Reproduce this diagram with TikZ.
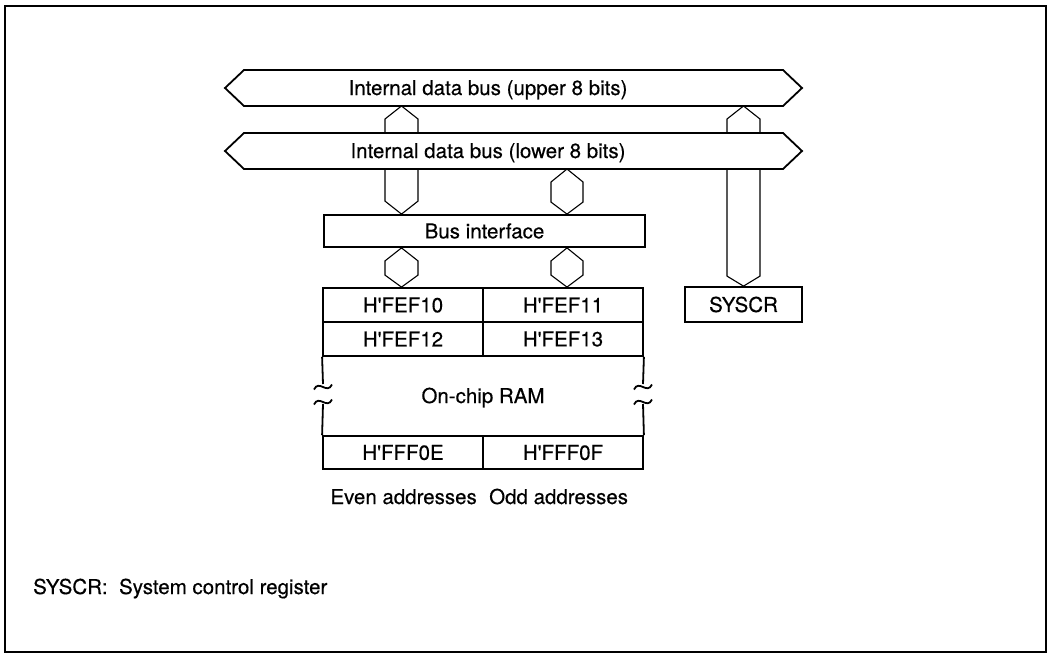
\documentclass[tikz,border=0pt]{standalone}
\usepackage{fontspec}
\setmainfont{TeX Gyre Heros}[FakeBold=0.4]
\usetikzlibrary{calc}
\begin{document}
\begin{tikzpicture}[x=1pt,y=-1pt,
  line join=miter,
  thick line/.style={line width=1.8pt},
  hexline/.style={line width=1.1pt},
  boxnode/.style={draw, line width=1.8pt, inner sep=0pt, font=\fontsize{20.5}{24}\selectfont},
  txt/.style={inner sep=0pt, anchor=base, font=\fontsize{20.5}{24}\selectfont},
  busfill/.style={thick line, fill=white}
]
\useasboundingbox (0,0) rectangle (1048,654);
% outer frame
\draw[line width=2.2pt] (5,6) rectangle (1046,652);

% column centres
\coordinate (cL) at (401.5,0);
\coordinate (cR) at (567,0);
\coordinate (cS) at (743.5,0);

% boxes
\node[boxnode, minimum width=321pt, minimum height=32pt] (bi) at (484.5,231) {Bus interface};
\node[boxnode, minimum width=117pt, minimum height=35pt] (sys) at (743.5,304.5) {SYSCR};
\node[boxnode, minimum width=160pt, minimum height=34pt] (c10) at (403,305) {H\textquotesingle FEF10};
\node[boxnode, minimum width=160pt, minimum height=34pt] (c11) at (563,305) {H\textquotesingle FEF11};
\node[boxnode, minimum width=160pt, minimum height=34pt] (c12) at (403,339) {H\textquotesingle FEF12};
\node[boxnode, minimum width=160pt, minimum height=34pt] (c13) at (563,339) {H\textquotesingle FEF13};
\node[boxnode, minimum width=160pt, minimum height=33pt] (e0e) at (403,452.5) {H\textquotesingle FFF0E};
\node[boxnode, minimum width=160pt, minimum height=33pt] (e0f) at (563,452.5) {H\textquotesingle FFF0F};

% bus coordinates
\coordinate (ub) at (0,106);   % upper bus bottom
\coordinate (lb) at (0,169);   % lower bus bottom

% hexagonal bus connectors
% left column: upper bus -> bus interface (passes behind lower bus)
\draw[hexline] (cL |- ub) -- ++(16.5,13) -- ($(cL |- bi.north)+(16.5,-13)$) -- (cL |- bi.north)
  -- ++(-16.5,-13) -- ($(cL |- ub)+(-16.5,13)$) -- cycle;
% SYSCR column: upper bus -> SYSCR
\draw[hexline] (cS |- ub) -- ++(16.5,13) -- ($(sys.north)+(16.5,-10)$) -- (sys.north)
  -- ++(-16.5,-10) -- ($(cS |- ub)+(-16.5,13)$) -- cycle;
% right column: lower bus -> bus interface
\draw[hexline] (cR |- lb) -- ++(16,13) -- ($(cR |- bi.north)+(16,-12)$) -- (cR |- bi.north)
  -- ++(-16,-12) -- ($(cR |- lb)+(-16,13)$) -- cycle;
% bus interface -> RAM
\draw[hexline] (cL |- bi.south) -- ++(16.5,13) -- ($(cL |- c10.north)+(16.5,-12)$) -- (cL |- c10.north)
  -- ++(-16.5,-12) -- ($(cL |- bi.south)+(-16.5,13)$) -- cycle;
\draw[hexline] (cR |- bi.south) -- ++(16,13) -- ($(cR |- c11.north)+(16,-12)$) -- (cR |- c11.north)
  -- ++(-16,-12) -- ($(cR |- bi.south)+(-16,13)$) -- cycle;

% upper bus
\draw[busfill] (225,88) -- (244,70) -- (783,70) -- (802,88) -- (783,106) -- (244,106) -- cycle;
% lower bus
\draw[busfill] (225,151) -- (244,133) -- (783,133) -- (802,151) -- (783,169) -- (244,169) -- cycle;
\node[txt] (ubt) at (488,95) {Internal data bus (upper 8 bits)};
\node[txt] (lbt) at (488,158) {Internal data bus (lower 8 bits)};

% RAM middle region with break marks
\draw[thick line] (c12.south west) -- (323,384);
\draw[thick line] (323,404) -- (e0e.north west);
\draw[thick line] (c13.south east) -- (643,384);
\draw[thick line] (643,404) -- (e0f.north east);
\foreach \xx in {323,643}{
  \foreach \yy in {387,402}{
    \draw[line width=1.8pt] (\xx-9,\yy+2.5) .. controls (\xx-4,\yy-8) and (\xx+4,\yy+8) .. (\xx+9,\yy-2.5);
  }
}
\node[txt] (ram) at (483,403) {On-chip RAM};

% labels
\node[txt, anchor=base east] (even) at (477,504) {Even addresses};
\node[txt, anchor=base west] (odd) at (489,504) {Odd addresses};
\node[txt, anchor=base west] (note) at (33,594) {SYSCR:\ \ System control register};
\end{tikzpicture}
\end{document}
